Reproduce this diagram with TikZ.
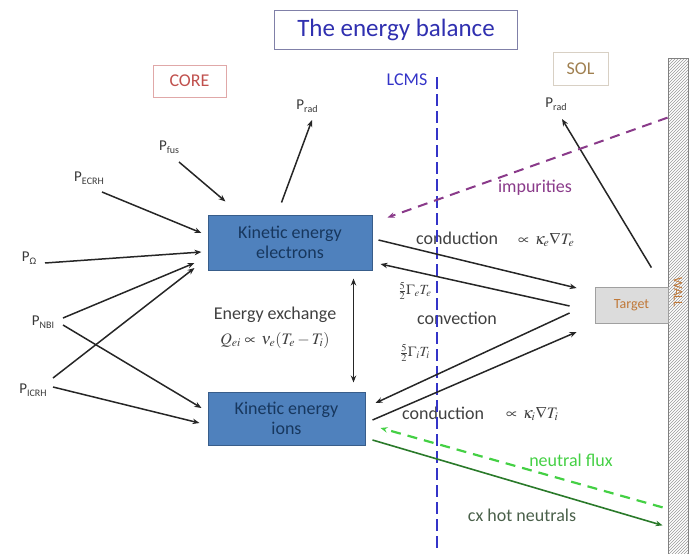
\documentclass[tikz,border=0pt]{standalone}
\usepackage{mathptmx}
\usepackage{fontspec}
\setmainfont{Carlito}
\usetikzlibrary{arrows.meta,patterns}
\definecolor{boxfill}{HTML}{4F81BD}
\definecolor{boxline}{HTML}{385D8A}
\definecolor{boxtext}{HTML}{17375E}
\definecolor{titletext}{HTML}{3030B0}
\definecolor{titleline}{HTML}{8080A8}
\definecolor{coretext}{HTML}{C0504D}
\definecolor{coreline}{HTML}{E0A8A8}
\definecolor{soltext}{HTML}{A08050}
\definecolor{solline}{HTML}{D8D0C4}
\definecolor{lcmsblue}{HTML}{3434C8}
\definecolor{impur}{HTML}{8A3A8A}
\definecolor{lightgreen}{HTML}{44D044}
\definecolor{darkgreen}{HTML}{2A7A2A}
\definecolor{cxtext}{HTML}{4A604A}
\definecolor{targetfill}{HTML}{DCDCDC}
\definecolor{targetline}{HTML}{A0A0A0}
\definecolor{targettext}{HTML}{C07838}
\definecolor{labeltext}{HTML}{383838}
\newcommand\fsz[1]{\fontsize{#1}{#1}\selectfont}
\newcommand\psub[1]{P\raisebox{-2.5pt}{\fsz{10}#1}}
\begin{document}
\begin{tikzpicture}[x=1pt,y=-1pt,
  arr/.style={-{Stealth[length=7pt,width=5.5pt]}, line width=1.5pt, black!85},
  dblarr/.style={{Stealth[length=7pt,width=5.5pt]}-{Stealth[length=7pt,width=5.5pt]}, line width=1.5pt, black!85},
  kebox/.style={draw=boxline, line width=1pt, fill=boxfill, text=boxtext, align=center, font=\fsz{18}, inner sep=0pt},
  plabel/.style={text=labeltext, font=\fsz{15}, inner sep=1pt},
  txt/.style={text=black!75, font=\fsz{18}, inner sep=0pt},
  mth/.style={text=black!75, font=\fsz{16}, inner sep=0pt}]
\useasboundingbox (0,0) rectangle (689,554);

% title and region labels
\node[draw=titleline, line width=1pt, minimum width=243pt, minimum height=39pt, text=titletext, font=\fsz{25}] (title) at (396,29.5) {The energy balance};
\node[draw=coreline, line width=1pt, minimum width=73pt, minimum height=32pt, text=coretext, font=\fsz{18}] (core) at (189.5,81) {CORE};
\node[draw=solline, line width=1pt, minimum width=55pt, minimum height=33pt, text=soltext, font=\fsz{18}] (sol) at (580.5,68.5) {SOL};
\node[text=lcmsblue, font=\fsz{18}, inner sep=0pt] (lcms) at (407,80) {LCMS};

% wall
\node[draw=gray, line width=0.8pt, pattern=north east lines, pattern color=gray!80, minimum width=20pt, minimum height=498pt, inner sep=0pt] (wall) at (678,307) {};
\node[rotate=-90, text=targettext, font=\fsz{13}] (walltext) at (678,292) {WALL};

% boxes
\node[kebox, minimum width=164pt, minimum height=55pt] (elec) at (290,242.5) {Kinetic energy\\[2pt]electrons};
\node[kebox, minimum width=157pt, minimum height=53pt] (ions) at (286.5,418.5) {Kinetic energy\\[2pt]ions};
\node[draw=targetline, line width=0.8pt, fill=targetfill, text=targettext, font=\fsz{14}, minimum width=73pt, minimum height=36pt, inner sep=0pt] (target) at (631.5,305) {Target};

% power labels
\node[plabel] (pfus) at (169,147) {\psub{fus}};
\node[plabel] (pecrh) at (89,178) {\psub{ECRH}};
\node[plabel] (pomega) at (29,258) {\psub{Ω}};
\node[plabel] (pnbi) at (43,322) {\psub{NBI}};
\node[plabel] (picrh) at (33,390) {\psub{ICRH}};
\node[plabel] (pradc) at (307,106) {\psub{rad}};
\node[plabel] (prads) at (556,104) {\psub{rad}};

% texts
\node[txt] (eex) at (275,315) {Energy exchange};
\node[mth] (qei) at (275,340) {$Q_{ei}\propto\,\nu_e(T_e-T_i)$};
\node[txt, anchor=west] (conde) at (416,238) {conduction};
\node[mth, anchor=west] (conde2) at (518,240) {$\propto\,\kappa_e\nabla T_e$};
\node[mth, font=\fsz{14}] (gte) at (415,291) {$\frac{5}{2}\Gamma_e T_e$};
\node[txt, anchor=west] (conv) at (417,318) {convection};
\node[mth, font=\fsz{14}] (gti) at (415,353) {$\frac{5}{2}\Gamma_i T_i$};
\node[txt, anchor=west] (condi) at (402,413) {conduction};
\node[mth, anchor=west] (condi2) at (506,414) {$\propto\,\kappa_i\nabla T_i$};
\node[txt, text=impur] (imp) at (535,188) {impurities};
\node[txt, text=lightgreen] (nflux) at (571,460) {neutral flux};
\node[txt, text=cxtext] (cx) at (522,515) {cx hot neutrals};

% LCMS line
\coordinate (ltop) at (437,77);
\coordinate (lbot) at (437,550);
\draw[lcmsblue, line width=2.2pt, dash pattern=on 12pt off 5pt] (ltop) -- (lbot);

% input arrows
\draw[arr] ([shift={(10,15)}]pfus.center) -- ([shift={(18,-13)}]elec.north west);
\draw[arr] ([shift={(74,-12)}]elec.north west) -- ([shift={(5,14)}]pradc.center);
\draw[arr] ([shift={(13,14)}]pecrh.center) -- ([shift={(-6,-9.5)}]elec.west);
\draw[arr] ([shift={(16,5)}]pomega.center) -- ([shift={(-6,9.5)}]elec.west);
\draw[arr] ([shift={(20,-4)}]pnbi.center) -- ([shift={(-13,20.5)}]elec.west);
\draw[arr] ([shift={(20,3)}]pnbi.center) -- ([shift={(-6,-10.5)}]ions.west);
\draw[arr] ([shift={(20,-12)}]picrh.center) -- ([shift={(-13,25.5)}]elec.west);
\draw[arr] ([shift={(20,-3)}]picrh.center) -- ([shift={(-8,4.5)}]ions.west);

% energy exchange
\draw[dblarr] ([shift={(-19,8)}]elec.south east) -- ([shift={(-12,-9)}]ions.north east);

% transport arrows
\draw[arr] ([shift={(6,-2.5)}]elec.east) -- ([shift={(-18,-17)}]target.west);
\draw[arr] ([shift={(-25,1)}]target.west) -- ([shift={(8,21.5)}]elec.east);
\draw[arr] ([shift={(-25,8)}]target.west) -- ([shift={(10,-15.5)}]ions.east);
\draw[arr] ([shift={(7,1.5)}]ions.east) -- ([shift={(-18,27)}]target.west);
\draw[arr] ([shift={(-17,-19)}]target.north east) -- ([shift={(6,15)}]prads.center);

% impurities and neutrals
\draw[impur, line width=2pt, dash pattern=on 10pt off 7pt, -{Stealth[length=7pt,width=5.5pt]}] ([shift={(0,60)}]wall.north west) -- ([shift={(15,3)}]elec.north east);
\draw[lightgreen, line width=2.2pt, dash pattern=on 10pt off 7pt, -{Stealth[length=7pt,width=5.5pt]}] ([shift={(-5,-49)}]wall.south west) -- ([shift={(15,9.5)}]ions.east);
\draw[darkgreen, line width=1.6pt, -{Stealth[length=7pt,width=5.5pt]}] ([shift={(7,21.5)}]ions.east) -- ([shift={(-5,-31)}]wall.south west);
\end{tikzpicture}
\end{document}
